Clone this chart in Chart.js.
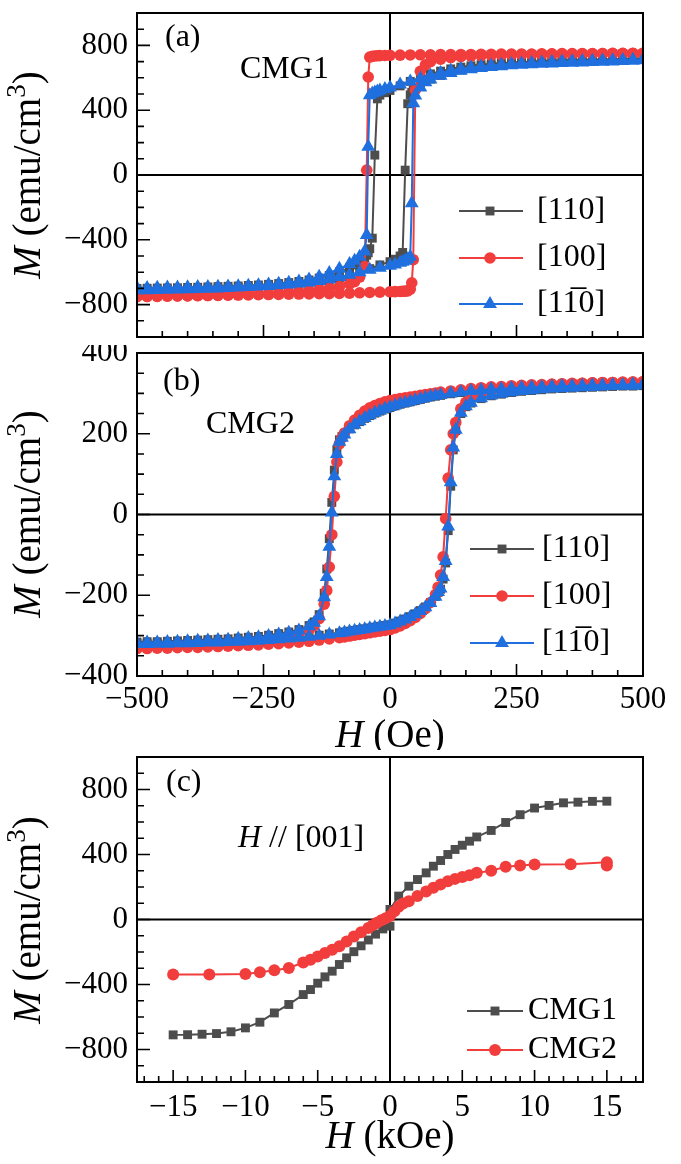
<!DOCTYPE html>
<html><head><meta charset="utf-8">
<script src="https://cdn.jsdelivr.net/npm/chart.js@4.4.1/dist/chart.umd.min.js"></script>
<style>
html,body{margin:0;padding:0;background:#fff;}
#wrap{position:relative;width:681px;height:1164px;overflow:hidden;}
canvas{position:absolute;left:0;}
</style></head><body>
<div id="wrap">
<canvas id="ca" style="top:0px" width="681" height="345"></canvas>
<canvas id="cb" style="top:345px" width="681" height="405"></canvas>
<canvas id="cc" style="top:750px" width="681" height="414"></canvas>
</div>
<script>
// ---------------- DATA ----------------
// Panel (a) CMG1, field sweep (Oe): descending branch then ascending branch
const hDownA = [500,480,460,440,420,400,380,360,340,320,300,280,260,240,220,200,180,160,140,120,100,80,60,40,20,0,-10,-20,-25,-30,-35,-40,-43,-46,-50,-60,-70,-80,-100,-120,-140,-160,-180,-200,-220,-240,-260,-280,-300,-320,-340,-360,-380,-400,-420,-440,-460,-480,-500];
const hUpA = [-500,-480,-460,-440,-420,-400,-380,-360,-340,-320,-300,-280,-260,-240,-220,-200,-180,-160,-140,-120,-100,-80,-60,-40,-20,0,10,20,25,30,35,40,43,46,50,60,70,80,100,120,140,160,180,200,220,240,260,280,300,320,340,360,380,400,420,440,460,480,500];
const a110Down = [718,717,716,715,714,713,711,710,708,706,704,701,698,695,691,686,681,674,666,655,641,624,602,578,550,522,508,493,470,123,-390,-455,-480,-495,-510,-535,-555,-572,-598,-620,-636,-648,-657,-664,-670,-675,-679,-682,-685,-687,-689,-691,-693,-694,-696,-697,-698,-699,-700];
const a110Up = [-712,-711,-710,-709,-708,-707,-705,-704,-702,-700,-698,-695,-692,-689,-685,-680,-675,-668,-660,-649,-636,-620,-600,-578,-555,-535,-520,-500,-478,30,440,495,510,522,535,558,577,592,615,634,648,659,667,674,680,684,688,691,694,697,699,701,703,705,707,709,711,713,716];
const a100Down = [752,752,751,751,750,750,750,749,749,748,748,747,747,746,746,745,745,744,744,743,743,742,742,741,740,739,738,737,736,735,733,728,605,30,-565,-630,-658,-672,-688,-700,-708,-715,-720,-725,-729,-732,-735,-737,-739,-740,-742,-743,-744,-745,-746,-747,-748,-749,-750];
const a100Up = [-751,-750,-749,-748,-747,-746,-745,-744,-743,-742,-741,-740,-739,-738,-737,-736,-735,-734,-733,-732,-731,-729,-727,-725,-723,-721,-720,-719,-718,-717,-716,-705,-665,-523,525,640,680,700,715,724,730,734,737,739,741,742,743,744,745,746,747,747,748,748,749,749,750,750,751];
const a1b10Down = [712,711,710,709,707,706,704,702,700,698,695,692,689,685,681,676,670,663,654,643,630,614,596,577,558,540,531,521,516,510,503,492,174,-370,-472,-505,-530,-550,-578,-605,-628,-645,-657,-665,-671,-676,-680,-683,-686,-688,-690,-691,-692,-693,-694,-695,-696,-697,-698];
const a1b10Up = [-712,-711,-710,-709,-707,-706,-704,-702,-700,-698,-695,-692,-689,-685,-681,-676,-670,-663,-654,-643,-630,-615,-600,-585,-572,-560,-552,-542,-536,-529,-520,-505,-174,443,490,540,572,590,612,630,643,653,661,667,672,677,681,684,687,689,691,693,695,697,699,701,703,705,708];

// Panel (b) CMG2
const hDownB = [500,480,460,440,420,400,380,360,340,320,300,280,260,240,220,200,180,160,140,120,100,90,80,70,60,50,40,30,20,10,0,-10,-20,-30,-40,-50,-60,-70,-80,-90,-95,-100,-105,-110,-115,-120,-125,-130,-140,-150,-160,-180,-200,-220,-240,-260,-280,-300,-320,-340,-360,-380,-400,-420,-440,-460,-480,-500];
const hUpB = [-500,-480,-460,-440,-420,-400,-380,-360,-340,-320,-300,-280,-260,-240,-220,-200,-180,-160,-140,-120,-100,-90,-80,-70,-60,-50,-40,-30,-20,-10,0,10,20,30,40,50,60,70,80,90,95,100,105,110,115,120,125,130,140,150,160,180,200,220,240,260,280,300,320,340,360,380,400,420,440,460,480,500];
const b110Down = [321,321,320,320,319,319,318,317,317,316,315,314,313,312,310,309,307,305,302,299,295,293,291,288,285,282,279,276,273,269,265,261,256,251,245,238,230,222,212,200,193,185,160,110,30,-60,-135,-195,-248,-266,-275,-285,-291,-295,-299,-302,-304,-306,-308,-309,-310,-311,-312,-313,-314,-315,-315,-316];
const b110Up = [-320,-320,-319,-319,-318,-318,-317,-316,-316,-315,-314,-313,-312,-310,-308,-306,-304,-302,-299,-296,-293,-291,-289,-287,-285,-283,-281,-279,-277,-275,-273,-269,-264,-259,-253,-246,-238,-229,-218,-203,-193,-185,-160,-120,-40,70,160,208,250,267,276,287,294,298,302,305,307,309,311,312,313,314,315,316,317,318,318,319];
const b100Down = [328,328,327,327,326,326,325,325,324,323,322,321,320,319,317,316,314,312,309,306,303,301,299,297,295,293,291,289,287,285,282,279,275,270,264,256,246,234,220,202,190,175,130,45,-50,-130,-188,-222,-258,-275,-285,-296,-303,-308,-312,-315,-317,-319,-321,-323,-324,-325,-326,-327,-328,-329,-330,-331];
const b100Up = [-332,-332,-331,-331,-330,-329,-329,-328,-327,-326,-325,-324,-323,-321,-320,-318,-316,-314,-311,-308,-305,-303,-301,-299,-297,-295,-293,-291,-289,-287,-285,-281,-276,-270,-263,-255,-245,-233,-218,-198,-180,-150,-105,-10,90,160,200,228,262,278,288,298,305,309,313,316,318,320,322,323,324,325,326,327,327,328,328,329];
const b1b10Down = [322,322,321,321,320,320,319,318,318,317,316,315,314,313,311,310,308,306,303,300,296,294,292,289,286,283,280,277,274,270,266,262,257,252,246,239,231,222,211,198,190,180,150,95,5,-80,-155,-205,-252,-268,-277,-287,-293,-297,-301,-304,-306,-308,-310,-311,-312,-313,-314,-315,-316,-317,-317,-318];
const b1b10Up = [-321,-321,-320,-320,-319,-319,-318,-317,-317,-316,-315,-314,-313,-311,-309,-307,-305,-303,-300,-297,-294,-292,-290,-288,-286,-284,-282,-280,-278,-276,-274,-270,-265,-260,-254,-247,-239,-230,-219,-204,-192,-183,-155,-115,-30,80,166,210,252,268,277,288,295,299,303,306,308,310,312,313,314,315,316,317,318,319,319,320];

// Panel (c) H // [001] (kOe)
const cmg1H = [-15,-14,-13,-12,-11,-10,-9,-8,-7,-6,-5.5,-5,-4.5,-4,-3.5,-3,-2.5,-2,-1.5,-1,-0.5,0,0,0.6,1.3,1.9,2.5,3,3.5,4,4.5,5,5.5,6,7,8,9,10,11,12,13,14,15];
const cmg1M = [-710,-709,-706,-702,-691,-667,-632,-575,-523,-462,-431,-392,-353,-318,-277,-236,-198,-162,-126,-90,-58,-41,62,144,205,246,287,328,363,400,431,457,482,508,548,597,645,686,702,718,722,727,728];
const cmg2H = [-15,-12.5,-10,-9,-8,-7,-6,-5.5,-5,-4.5,-4,-3.5,-3,-2.5,-2,-1.5,-1.2,-0.9,-0.6,-0.3,0,0.3,0.6,0.9,1.3,1.9,2.5,3,3.5,4,4.5,5,5.5,6,7,8,9,10,12.5,15,15];
const cmg2M = [-338,-338,-336,-324,-312,-298,-265,-247,-227,-206,-186,-164,-135,-105,-78,-52,-36,-20,-5,8,22,50,78,98,113,144,172,195,215,236,250,262,272,287,300,324,332,338,340,352,332];

// Tick labels
const xTicksOe = [-500,-250,0,250,500];
const xTicksKOe = [-15,-10,-5,0,5,10,15];
const yTicksA = [-800,-400,0,400,800];
const yTicksB = [-400,-200,0,200,400];
const yTicksC = [-800,-400,0,400,800];
const legendA = ['[110]','[100]','[11\u03050]'];
const legendC = ['CMG1','CMG2'];

// ---------------- STYLE ----------------
const FONT = '"Liberation Serif","Times New Roman",serif';
const fnt = (s, st) => (st ? st + ' ' : '') + s + 'px ' + FONT;
const GRAY = '#4d4d4d', RED = '#f23d3d', BLUE = '#1f6fdf';
const TICKF = 31, TITLEF = 39, TXTF = 32;

function pairs(hx, my) { return hx.map((h, i) => ({x: h, y: my[i]})); }
function loop(h1, m1, h2, m2) { return pairs(h1, m1).concat(pairs(h2, m2)); }
function minorList(min, max, step) { const r = []; for (let v = min; v <= max + 1e-9; v += step) r.push(Math.round(v * 1000) / 1000); return r; }
function fmt(v) { return v < 0 ? '\u2212' + Math.abs(v) : String(v); }

function ds(label, data, color, style, r, order) {
  return { label, data, showLine: true, borderColor: color, backgroundColor: color, borderWidth: 2,
    pointStyle: style, pointRadius: r, pointHoverRadius: r, pointBackgroundColor: color, pointBorderColor: color,
    pointBorderWidth: 0, tension: 0, order };
}

function drawRich(ctx, segs, x, y, align) {
  let w = 0;
  segs.forEach(s => { ctx.font = s.f; w += ctx.measureText(s.t).width; });
  let cx = align === 'center' ? x - w / 2 : x;
  ctx.textAlign = 'left'; ctx.textBaseline = 'middle'; ctx.fillStyle = '#000';
  segs.forEach(s => { ctx.font = s.f; ctx.fillText(s.t, cx, y + (s.dy || 0)); cx += ctx.measureText(s.t).width; });
}

const mTitle = [{t:'M', f:fnt(TITLEF,'italic')},{t:' (emu/cm', f:fnt(TITLEF)},{t:'3', f:fnt(27), dy:-12},{t:')', f:fnt(TITLEF)}];

function panelPlugin(cfg) {
  return {
    id: 'panel_' + cfg.name,
    beforeDatasetsDraw(chart) {
      const {ctx, chartArea: a} = chart; const x = chart.scales.x, y = chart.scales.y;
      ctx.save(); ctx.strokeStyle = '#000'; ctx.lineWidth = 2;
      const px = x.getPixelForValue(0), py = y.getPixelForValue(0);
      ctx.beginPath(); ctx.moveTo(px, a.top); ctx.lineTo(px, a.bottom);
      ctx.moveTo(a.left, py); ctx.lineTo(a.right, py); ctx.stroke(); ctx.restore();
    },
    afterDraw(chart) {
      const {ctx, chartArea: a} = chart; const x = chart.scales.x, y = chart.scales.y;
      const off = cfg.top;
      ctx.save(); ctx.strokeStyle = '#000'; ctx.lineWidth = 1.6;
      ctx.beginPath();
      y.ticks.forEach(t => { const p = y.getPixelForValue(t.value); const L = cfg.yMajor.includes(t.value) ? 13 : 7;
        ctx.moveTo(a.left, p); ctx.lineTo(a.left + L, p); });
      x.ticks.forEach(t => { const p = x.getPixelForValue(t.value); const L = cfg.xMajor.includes(t.value) ? 12 : 6;
        ctx.moveTo(p, a.bottom); ctx.lineTo(p, a.bottom - L); });
      ctx.stroke();
      ctx.lineWidth = 2; ctx.strokeRect(a.left, a.top, a.right - a.left, a.bottom - a.top);
      ctx.save(); ctx.translate(30, cfg.yTitleY - off); ctx.rotate(-Math.PI / 2);
      drawRich(ctx, mTitle, 0, 0, 'center'); ctx.restore();
      (cfg.texts || []).forEach(tx => drawRich(ctx, tx.segs, tx.x, tx.y - off, tx.align || 'left'));
      const L = cfg.legend;
      L.items.forEach(it => {
        const d = chart.data.datasets[it.ds]; const yy = it.y - off;
        ctx.strokeStyle = d.borderColor; ctx.lineWidth = d.borderWidth;
        ctx.beginPath(); ctx.moveTo(L.x1, yy); ctx.lineTo(L.x2, yy); ctx.stroke();
        ctx.fillStyle = d.pointBackgroundColor; ctx.strokeStyle = d.pointBorderColor;
        Chart.helpers.drawPoint(ctx, {pointStyle: d.pointStyle, radius: d.pointRadius, rotation: 0, borderWidth: 0}, L.xm, yy);
        drawRich(ctx, [{t: it.text, f: fnt(TXTF)}], L.xt, yy, 'left');
      });
      ctx.restore();
    }
  };
}

function makeChart(id, cfg) {
  const xAll = minorList(cfg.xMin0, cfg.xMax0, cfg.xStep);
  const yAll = minorList(cfg.yMin0, cfg.yMax0, cfg.yStep);
  return new Chart(document.getElementById(id), {
    type: 'scatter',
    data: { datasets: cfg.datasets },
    options: {
      responsive: false, animation: false, devicePixelRatio: 1,
      layout: { padding: { left: 0, right: 38, top: cfg.padTop, bottom: 0 } },
      plugins: { legend: { display: false }, tooltip: { enabled: false } },
      scales: {
        x: { type: 'linear', position: 'bottom', min: cfg.xMin, max: cfg.xMax,
          grid: { display: false, drawTicks: false }, border: { display: false },
          afterBuildTicks: s => { s.ticks = xAll.map(v => ({ value: v })); },
          afterFit: s => { s.height = cfg.xH; s.paddingLeft = 0; s.paddingRight = 0; },
          ticks: { display: cfg.xLabels, autoSkip: false, maxRotation: 0, padding: cfg.xPad, color: '#000',
            font: { family: FONT, size: TICKF },
            callback: v => cfg.xMajor.includes(v) ? fmt(v) : '' } },
        y: { type: 'linear', position: 'left', min: cfg.yMin, max: cfg.yMax,
          grid: { display: false, drawTicks: false }, border: { display: false },
          afterBuildTicks: s => { s.ticks = yAll.map(v => ({ value: v })); },
          afterFit: s => { s.width = 137; s.paddingTop = 0; s.paddingBottom = 0; },
          ticks: { autoSkip: false, padding: 9, color: '#000', font: { family: FONT, size: TICKF },
            callback: v => cfg.yMajor.includes(v) ? fmt(v) : '' } }
      }
    },
    plugins: [panelPlugin(cfg)]
  });
}

// Panel (a)
makeChart('ca', {
  name: 'a', top: 0, padTop: 13, xH: 7, xLabels: false, xPad: 0,
  xMin: -500, xMax: 500, xMin0: -500, xMax0: 500, xStep: 50, xMajor: xTicksOe,
  yMin: -1000, yMax: 1000, yMin0: -1000, yMax0: 1000, yStep: 100, yMajor: yTicksA,
  yTitleY: 175,
  datasets: [
    ds(legendA[0], loop(hDownA, a110Down, hUpA, a110Up), GRAY, 'rect', 6.3, 3),
    ds(legendA[1], loop(hDownA, a100Down, hUpA, a100Up), RED, 'circle', 5.8, 2),
    ds(legendA[2], loop(hDownA, a1b10Down, hUpA, a1b10Up), BLUE, 'triangle', 8, 1)
  ],
  texts: [
    { segs: [{t:'(a)', f:fnt(TXTF)}], x: 165, y: 38 },
    { segs: [{t:'CMG1', f:fnt(TXTF)}], x: 240, y: 70 }
  ],
  legend: { x1: 459, x2: 523, xm: 490, xt: 537, items: [
    { ds: 0, y: 211, text: legendA[0] }, { ds: 1, y: 258, text: legendA[1] }, { ds: 2, y: 304, text: legendA[2] } ] }
});

// Panel (b)
makeChart('cb', {
  name: 'b', top: 345, padTop: 7, xH: 74, xLabels: true, xPad: 5,
  xMin: -500, xMax: 500, xMin0: -500, xMax0: 500, xStep: 50, xMajor: xTicksOe,
  yMin: -400, yMax: 400, yMin0: -400, yMax0: 400, yStep: 50, yMajor: yTicksB,
  yTitleY: 514,
  datasets: [
    ds(legendA[0], loop(hDownB, b110Down, hUpB, b110Up), GRAY, 'rect', 6.3, 3),
    ds(legendA[1], loop(hDownB, b100Down, hUpB, b100Up), RED, 'circle', 5.8, 2),
    ds(legendA[2], loop(hDownB, b1b10Down, hUpB, b1b10Up), BLUE, 'triangle', 8, 1)
  ],
  texts: [
    { segs: [{t:'(b)', f:fnt(TXTF)}], x: 163, y: 382 },
    { segs: [{t:'CMG2', f:fnt(TXTF)}], x: 206, y: 425 },
    { segs: [{t:'H', f:fnt(TITLEF,'italic')}, {t:' (Oe)', f:fnt(TITLEF)}], x: 390, y: 737, align: 'center' }
  ],
  legend: { x1: 470, x2: 534, xm: 502, xt: 542, items: [
    { ds: 0, y: 549, text: legendA[0] }, { ds: 1, y: 596, text: legendA[1] }, { ds: 2, y: 643, text: legendA[2] } ] }
});

// Panel (c)
makeChart('cc', {
  name: 'c', top: 750, padTop: 7, xH: 82, xLabels: true, xPad: 7,
  xMin: -17.5, xMax: 17.5, xMin0: -17, xMax0: 17, xStep: 1, xMajor: xTicksKOe,
  yMin: -1000, yMax: 1000, yMin0: -1000, yMax0: 1000, yStep: 100, yMajor: yTicksC,
  yTitleY: 920,
  datasets: [
    ds(legendC[0], pairs(cmg1H, cmg1M), GRAY, 'rect', 6.3, 2),
    ds(legendC[1], pairs(cmg2H, cmg2M), RED, 'circle', 6, 1)
  ],
  texts: [
    { segs: [{t:'(c)', f:fnt(TXTF)}], x: 166, y: 783 },
    { segs: [{t:'H', f:fnt(TXTF,'italic')}, {t:' // [001]', f:fnt(TXTF)}], x: 238, y: 839 },
    { segs: [{t:'H', f:fnt(TITLEF,'italic')}, {t:' (kOe)', f:fnt(TITLEF)}], x: 390, y: 1138, align: 'center' }
  ],
  legend: { x1: 467, x2: 523, xm: 495, xt: 528, items: [
    { ds: 0, y: 1011, text: legendC[0] }, { ds: 1, y: 1050, text: legendC[1] } ] }
});
</script>
</body></html>
